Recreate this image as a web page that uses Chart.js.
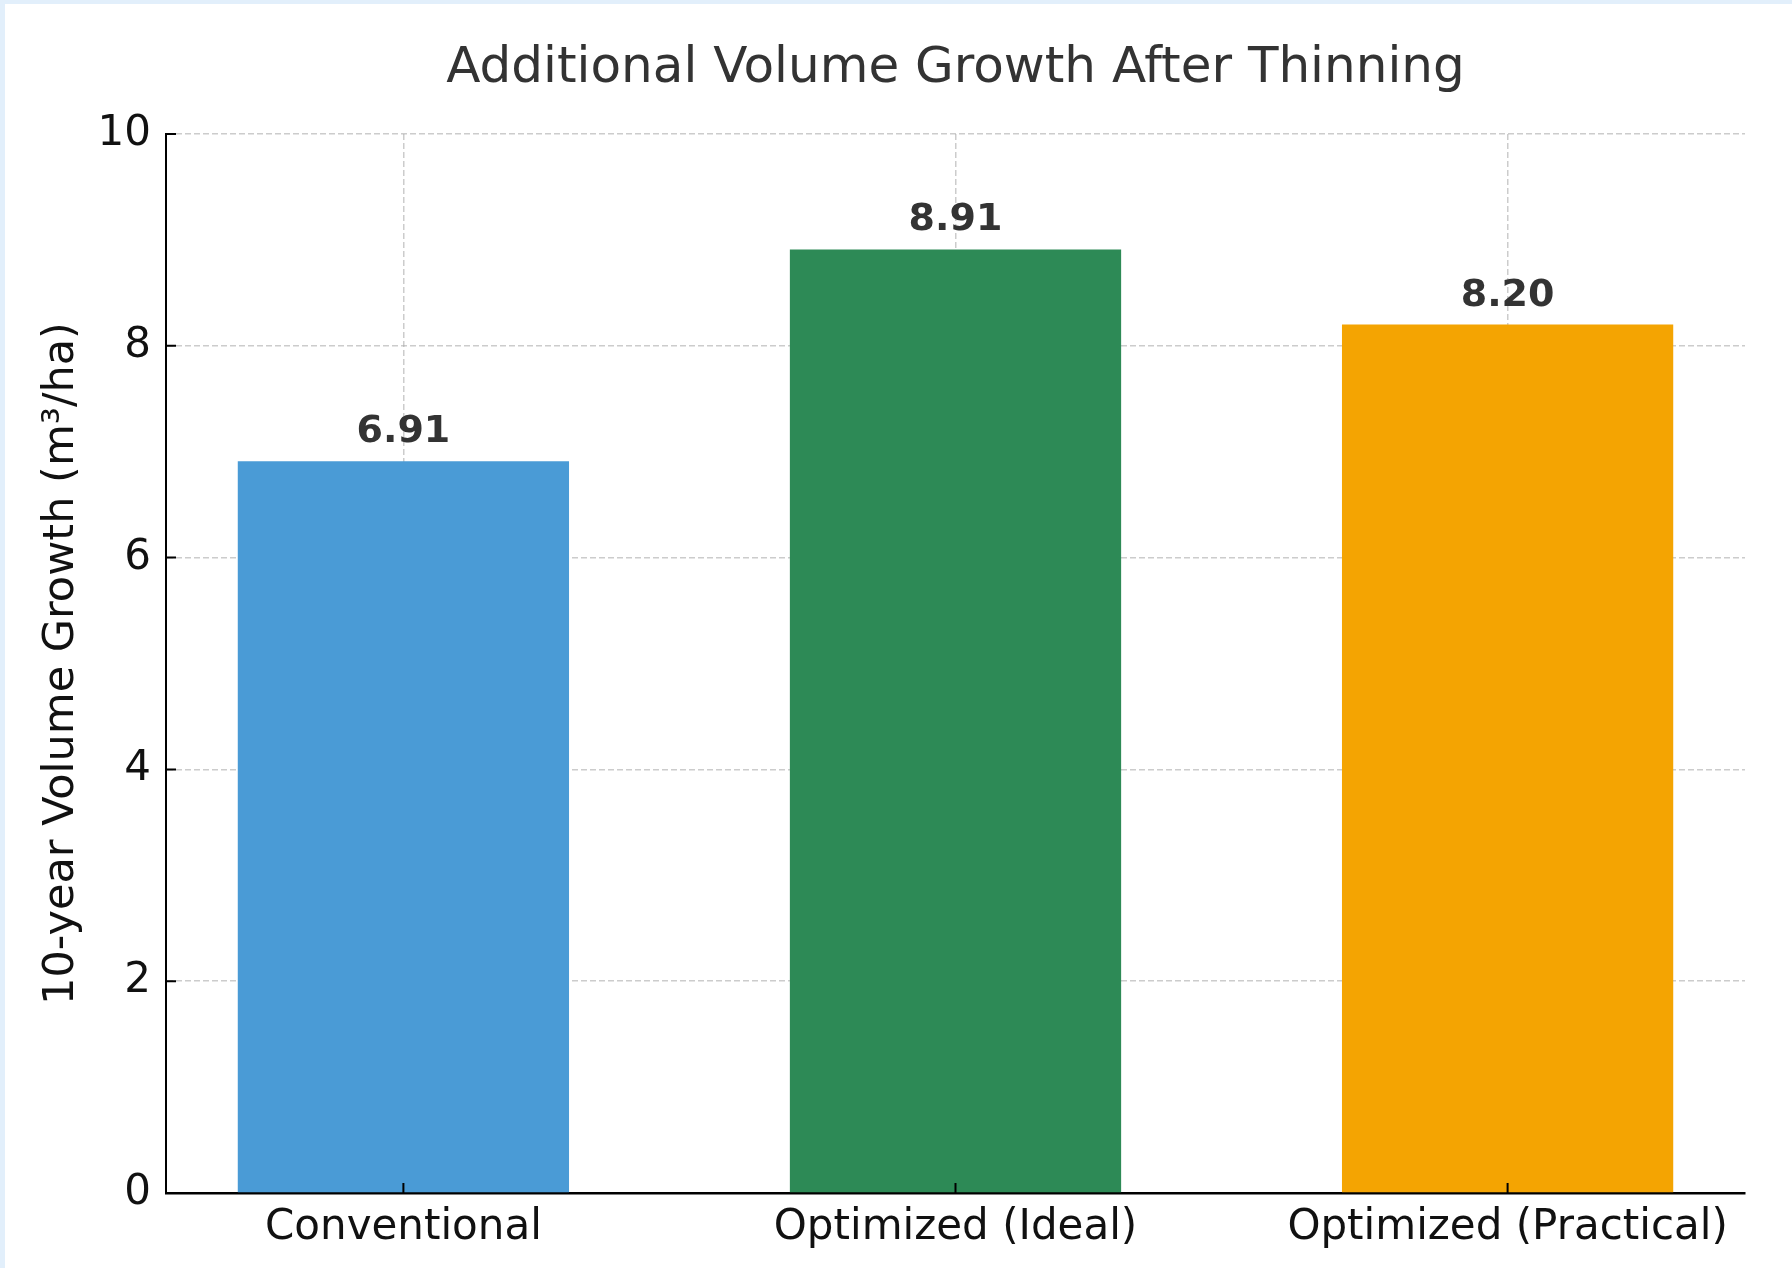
<!DOCTYPE html>
<html lang="en">
<head>
  <meta charset="UTF-8">
  <title>Additional Volume Growth After Thinning</title>
  <script src="https://cdn.jsdelivr.net/npm/chart.js"></script>
  <style>
    html, body {
      margin: 0;
      padding: 0;
      width: 1792px;
      height: 1268px;
      background: #e2effb;
      overflow: hidden;
    }
    .chart-box {
      position: absolute;
      left: 5px;
      top: 4px;
      width: 1787px;
      height: 1264px;
      background: #ffffff;
    }
  </style>
</head>
<body>

  <div class="chart-box">
    <canvas id="growthChart"></canvas>
  </div>

  <script>
    // Data
    const categories = ['Conventional', 'Optimized (Ideal)', 'Optimized (Practical)'];
    const growth = [6.91, 8.91, 8.20];
    const barColors = ['#4a9bd6', '#2d8a56', '#f4a402'];
    const yTicks = [0, 2, 4, 6, 8, 10];

    const FONT = '"DejaVu Sans", sans-serif';

    // value labels above each bar
    const valueLabels = {
      id: 'valueLabels',
      afterDatasetsDraw(chart) {
        const ctx = chart.ctx;
        const meta = chart.getDatasetMeta(0);
        ctx.save();
        ctx.font = 'bold 38px ' + FONT;
        ctx.fillStyle = '#333333';
        ctx.textAlign = 'center';
        ctx.textBaseline = 'alphabetic';
        meta.data.forEach((bar, i) => {
          ctx.fillText(growth[i].toFixed(2), bar.x, bar.y - 19);
        });
        ctx.restore();
      }
    };

    // matplotlib style inward tick marks
    const innerTicks = {
      id: 'innerTicks',
      afterDraw(chart) {
        const ctx = chart.ctx;
        const area = chart.chartArea;
        const x = chart.scales.x;
        const y = chart.scales.y;
        ctx.save();
        ctx.strokeStyle = '#000000';
        ctx.lineWidth = 2;
        ctx.beginPath();
        y.ticks.forEach(t => {
          const py = y.getPixelForValue(t.value);
          ctx.moveTo(area.left, py);
          ctx.lineTo(area.left + 10, py);
        });
        x.ticks.forEach(t => {
          const px = x.getPixelForValue(t.value);
          ctx.moveTo(px, area.bottom);
          ctx.lineTo(px, area.bottom - 10);
        });
        ctx.stroke();
        ctx.restore();
      }
    };

    const ctx = document.getElementById('growthChart').getContext('2d');

    new Chart(ctx, {
      type: 'bar',
      data: {
        datasets: [{
          data: growth.map((v, i) => ({ x: i, y: v })),
          backgroundColor: barColors,
          borderWidth: 0,
          barPercentage: 0.6,
          categoryPercentage: 1.0
        }]
      },
      options: {
        responsive: true,
        maintainAspectRatio: false,
        animation: false,
        layout: {
          padding: { left: 0, right: 47, top: 0, bottom: 0 }
        },
        plugins: {
          legend: { display: false },
          tooltip: { enabled: false },
          title: {
            display: true,
            fullSize: false,
            text: 'Additional Volume Growth After Thinning',
            color: '#333333',
            font: { family: FONT, size: 50, weight: 'normal', lineHeight: 1.2 },
            padding: { top: 35, bottom: 35 }
          }
        },
        scales: {
          x: {
            type: 'linear',
            min: -0.43,
            max: 2.43,
            offset: false,
            z: 1,
            afterBuildTicks(scale) {
              scale.ticks = categories.map((c, i) => ({ value: i }));
            },
            afterFit(scale) {
              scale.height = 75;
            },
            ticks: {
              color: '#111111',
              font: { family: FONT, size: 42, lineHeight: 1.2 },
              padding: 10,
              maxRotation: 0,
              autoSkip: false,
              callback: (v) => categories[v]
            },
            grid: {
              offset: false,
              drawTicks: false,
              color: 'rgba(170,170,170,0.6)',
              lineWidth: 1.5
            },
            border: {
              display: true,
              color: '#000000',
              width: 2.5,
              dash: [6, 3]
            }
          },
          y: {
            min: 0,
            max: 10,
            z: 1,
            afterBuildTicks(scale) {
              scale.ticks = yTicks.map(v => ({ value: v }));
            },
            afterFit(scale) {
              scale.width = 161;
            },
            ticks: {
              color: '#111111',
              font: { family: FONT, size: 42, lineHeight: 1.2 },
              padding: 15
            },
            grid: {
              drawTicks: false,
              color: 'rgba(170,170,170,0.6)',
              lineWidth: 1.5
            },
            border: {
              display: true,
              color: '#000000',
              width: 2,
              dash: [6, 3]
            },
            title: {
              display: true,
              text: '10-year Volume Growth (m³/ha)',
              color: '#111111',
              font: { family: FONT, size: 43, lineHeight: 1.2 },
              padding: { top: 31, bottom: 0 }
            }
          }
        }
      },
      plugins: [valueLabels, innerTicks]
    });
  </script>

</body>
</html>
